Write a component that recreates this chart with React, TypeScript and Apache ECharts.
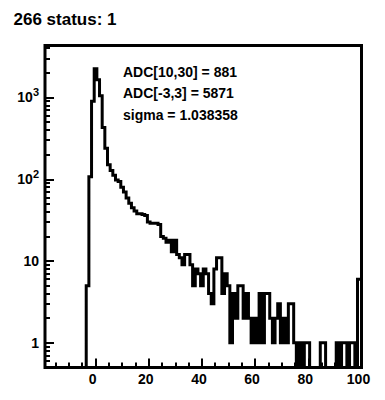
import React, { useEffect, useRef } from "react";
import * as echarts from "echarts";

const titleText = "266 status: 1";
const statsLines = ["ADC[10,30] = 881", "ADC[-3,3] = 5871", "sigma = 1.038358"];

// histogram: unit-width bins centred on integers, first bin centre = firstBin
const firstBin = -4;
const counts = [
  0, 5, 107, 900, 2250, 1650, 1050, 430, 240, 150,
  128, 112, 98, 94, 80, 70, 59, 51, 45, 41,
  38, 38, 37, 36, 30, 29, 29, 29, 28, 20,
  19, 17, 18, 13, 18, 12, 11, 9, 12, 12,
  9, 5, 8, 7, 5, 8, 7, 4, 3, 8,
  11, 11, 4, 7, 5, 1, 4, 2, 5, 5,
  2, 4, 2, 1, 2, 1, 4, 1, 4, 4,
  2, 1, 2, 3, 1, 2, 1, 3, 3, 1,
  0, 1, 0, 1, 1, 0, 0, 0, 0, 1,
  1, 0, 0, 0, 0, 1, 0, 1, 1, 0,
  1, 1, 0, 6, 6,
];

const xMin = -19;
const xMax = 100;
const yMin = 0.5;
const yMax = 4315;

const xMajorTicks = [0, 20, 40, 60, 80, 100];
const xMinorTicks = [-15, -10, -5, 5, 10, 15, 25, 30, 35, 45, 50, 55, 65, 70, 75, 85, 90, 95];
const yMajorTicks = [1, 10, 100, 1000];
const yMinorTicks = [
  0.6, 0.7, 0.8, 0.9,
  2, 3, 4, 5, 6, 7, 8, 9,
  20, 30, 40, 50, 60, 70, 80, 90,
  200, 300, 400, 500, 600, 700, 800, 900,
  2000, 3000, 4000,
];

const FONT = "'Liberation Sans', Arial, Helvetica, sans-serif";
const lg = (v: number) => (v > 0 ? Math.log10(v) : Math.log10(yMin) - 1);

export default function App() {
  const ref = useRef<HTMLDivElement>(null);
  useEffect(() => {
    if (!ref.current) return;
    const chart = echarts.init(ref.current, undefined, { renderer: "svg" });

    const pts: number[][] = counts.map((c, i) => [firstBin + i - 0.5, lg(c)]);
    pts.push([firstBin + counts.length - 0.5, lg(counts[counts.length - 1])]);

    const tickStyle = { color: "#000", width: 2 };
    const xBase = {
      type: "value" as const,
      min: xMin,
      max: xMax,
      position: "bottom" as const,
      axisLine: { show: false, onZero: false },
      splitLine: { show: false },
    };
    const yBase = {
      type: "value" as const,
      min: lg(yMin),
      max: lg(yMax),
      position: "left" as const,
      axisLine: { show: false, onZero: false },
      splitLine: { show: false },
    };

    chart.setOption({
      animation: false,
      backgroundColor: "#fff",
      grid: {
        left: 45,
        right: 23.5,
        top: 45.5,
        bottom: 32.5,
        show: true,
        borderColor: "#000",
        borderWidth: 3,
        backgroundColor: "transparent",
      },
      xAxis: [
        {
          ...xBase,
          axisTick: { inside: true, length: 9, customValues: xMajorTicks, lineStyle: tickStyle },
          axisLabel: {
            customValues: xMajorTicks,
            color: "#000",
            fontFamily: FONT,
            fontWeight: "bold",
            fontSize: 14,
            margin: 4,
            padding: [0, 6, 0, 0],
          },
        },
        {
          ...xBase,
          axisTick: { inside: true, length: 5, customValues: xMinorTicks, lineStyle: tickStyle },
          axisLabel: { show: false },
        },
      ],
      yAxis: [
        {
          ...yBase,
          axisTick: { inside: true, length: 9, customValues: yMajorTicks.map(Math.log10), lineStyle: tickStyle },
          axisLabel: {
            customValues: yMajorTicks.map(Math.log10),
            color: "#000",
            margin: 6,
            formatter: (val: number) => {
              const e = Math.round(val);
              if (e <= 1) return `{b|${Math.pow(10, e)}}`;
              return `{b|10}{s|${e}}`;
            },
            rich: {
              b: { fontFamily: FONT, fontWeight: "bold", fontSize: 14, lineHeight: 22, color: "#000" },
              s: { fontFamily: FONT, fontWeight: "bold", fontSize: 11, lineHeight: 10, verticalAlign: "top", color: "#000" },
            },
          },
        },
        {
          ...yBase,
          axisTick: { inside: true, length: 5, customValues: yMinorTicks.map(Math.log10), lineStyle: tickStyle },
          axisLabel: { show: false },
        },
      ],
      series: [
        {
          type: "line",
          step: "end",
          data: pts,
          xAxisIndex: 0,
          yAxisIndex: 0,
          showSymbol: false,
          clip: true,
          lineStyle: { color: "#000", width: 3, join: "miter" },
          silent: true,
        },
      ],
      graphic: [
        {
          type: "text",
          left: 13.5,
          top: 11,
          style: { text: titleText, fill: "#000", font: `bold 17px ${FONT}` },
        },
        ...statsLines.map((t, i) => ({
          type: "text",
          x: 123,
          y: 71.7 + i * 21.7,
          style: { text: t, fill: "#000", font: `bold 14px ${FONT}`, verticalAlign: "middle" },
        })),
      ],
    });
    return () => chart.dispose();
  }, []);
  return (
    <div
      ref={ref}
      style={{ position: "absolute", left: 0, top: 0, width: 385, height: 400, background: "#fff" }}
    />
  );
}
